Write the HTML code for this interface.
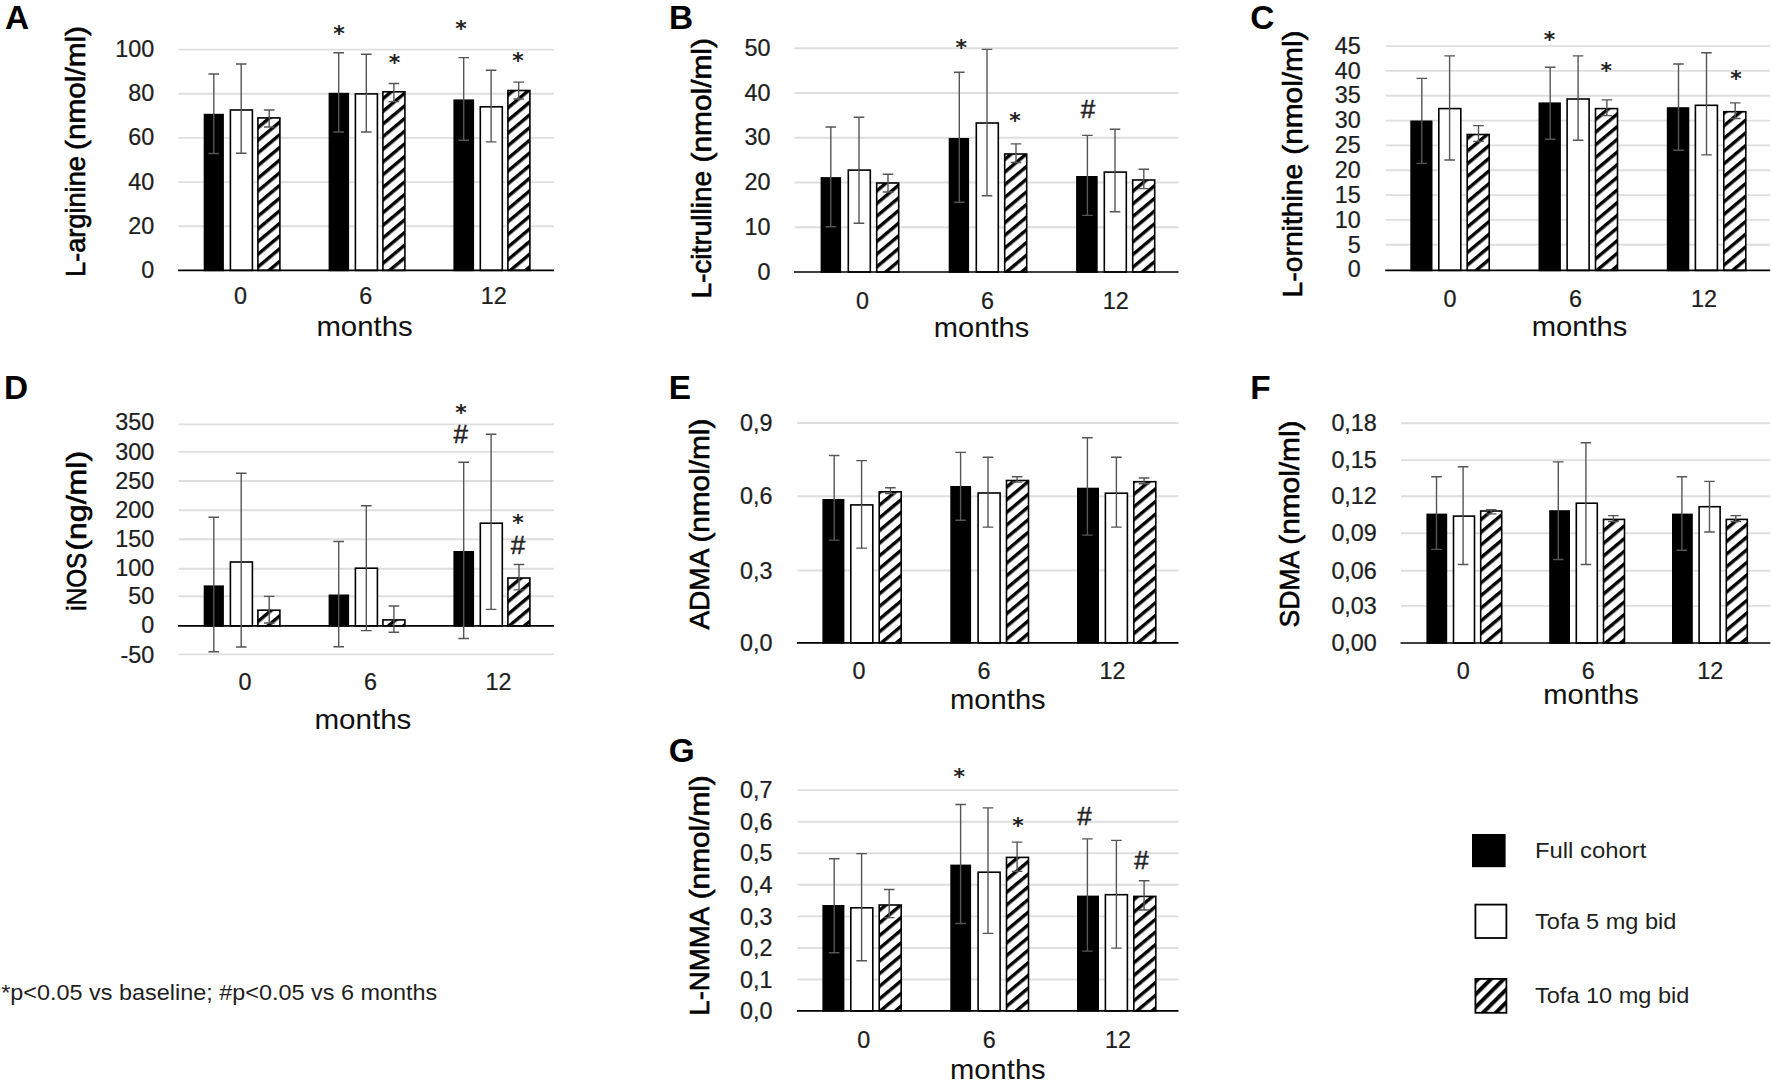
<!DOCTYPE html>
<html lang="en"><head><meta charset="utf-8"><title>Figure</title>
<style>html,body{margin:0;padding:0;background:#fff}body{width:1772px;height:1082px;overflow:hidden}svg{display:block}</style></head>
<body>
<svg width="1772" height="1082" viewBox="0 0 1772 1082" font-family='"Liberation Sans", Arial, sans-serif'>
<defs><pattern id="h" width="12.6" height="9.7" patternUnits="userSpaceOnUse" patternTransform="rotate(-40)"><rect width="12.6" height="9.7" fill="#fff"/><rect y="0" width="12.6" height="3.4" fill="#000"/></pattern><pattern id="hl" width="20" height="9.1" patternUnits="userSpaceOnUse" patternTransform="translate(1475.4 978.9) rotate(-45)"><rect width="20" height="9.1" fill="#fff"/><rect width="20" height="4" fill="#000"/></pattern></defs>
<rect width="1772" height="1082" fill="#fff"/>
<g>
<line x1="178.6" x2="554.0" y1="49.6" y2="49.6" stroke="#dedede" stroke-width="1.9"/>
<line x1="178.6" x2="554.0" y1="93.8" y2="93.8" stroke="#dedede" stroke-width="1.9"/>
<line x1="178.6" x2="554.0" y1="137.9" y2="137.9" stroke="#dedede" stroke-width="1.9"/>
<line x1="178.6" x2="554.0" y1="182.1" y2="182.1" stroke="#dedede" stroke-width="1.9"/>
<line x1="178.6" x2="554.0" y1="226.2" y2="226.2" stroke="#dedede" stroke-width="1.9"/>
<rect x="203.7" y="113.8" width="20.2" height="157.4" fill="#000"/>
<rect x="230.4" y="110.0" width="22.0" height="160.4" fill="#fff" stroke="#000" stroke-width="1.6"/>
<rect x="257.9" y="117.9" width="22.0" height="152.5" fill="url(#h)" stroke="#000" stroke-width="1.6"/>
<rect x="328.6" y="92.8" width="20.5" height="178.4" fill="#000"/>
<rect x="355.4" y="93.9" width="22.0" height="176.5" fill="#fff" stroke="#000" stroke-width="1.6"/>
<rect x="382.9" y="91.8" width="22.0" height="178.6" fill="url(#h)" stroke="#000" stroke-width="1.6"/>
<rect x="453.4" y="99.4" width="20.7" height="171.8" fill="#000"/>
<rect x="480.3" y="106.8" width="22.0" height="163.6" fill="#fff" stroke="#000" stroke-width="1.6"/>
<rect x="507.9" y="90.5" width="22.0" height="179.9" fill="url(#h)" stroke="#000" stroke-width="1.6"/>
<line x1="178.1" x2="554.0" y1="270.4" y2="270.4" stroke="#000" stroke-width="1.6"/>
<path d="M213.8 74.0V153.5M208.5 74.0h10.6M208.5 153.5h10.6M241.2 64.0V153.2M235.9 64.0h10.6M235.9 153.2h10.6M269.2 110.0V127.0M263.9 110.0h10.6M263.9 127.0h10.6M338.7 52.8V132.0M333.4 52.8h10.6M333.4 132.0h10.6M366.3 54.2V132.0M361.0 54.2h10.6M361.0 132.0h10.6M393.9 83.5V101.6M388.6 83.5h10.6M388.6 101.6h10.6M463.7 57.6V140.2M458.4 57.6h10.6M458.4 140.2h10.6M491.1 70.3V141.9M485.8 70.3h10.6M485.8 141.9h10.6M518.7 82.1V99.0M513.4 82.1h10.6M513.4 99.0h10.6" stroke="#555" stroke-width="1.4" fill="none"/>
<text x="0.0" y="0.0" font-size="23.0" text-anchor="end" fill="#1e1e1e" stroke="#1e1e1e" stroke-width="0.25" transform="translate(154.2 57.1) scale(1.015 1)">100</text>
<text x="0.0" y="0.0" font-size="23.0" text-anchor="end" fill="#1e1e1e" stroke="#1e1e1e" stroke-width="0.25" transform="translate(154.2 101.3) scale(1.015 1)">80</text>
<text x="0.0" y="0.0" font-size="23.0" text-anchor="end" fill="#1e1e1e" stroke="#1e1e1e" stroke-width="0.25" transform="translate(154.2 145.4) scale(1.015 1)">60</text>
<text x="0.0" y="0.0" font-size="23.0" text-anchor="end" fill="#1e1e1e" stroke="#1e1e1e" stroke-width="0.25" transform="translate(154.2 189.6) scale(1.015 1)">40</text>
<text x="0.0" y="0.0" font-size="23.0" text-anchor="end" fill="#1e1e1e" stroke="#1e1e1e" stroke-width="0.25" transform="translate(154.2 233.7) scale(1.015 1)">20</text>
<text x="0.0" y="0.0" font-size="23.0" text-anchor="end" fill="#1e1e1e" stroke="#1e1e1e" stroke-width="0.25" transform="translate(154.2 277.9) scale(1.015 1)">0</text>
<text x="0.0" y="0.0" font-size="23.0" text-anchor="middle" fill="#1e1e1e" stroke="#1e1e1e" stroke-width="0.25" transform="translate(240.4 304.0) scale(1.015 1)">0</text>
<text x="0.0" y="0.0" font-size="23.0" text-anchor="middle" fill="#1e1e1e" stroke="#1e1e1e" stroke-width="0.25" transform="translate(365.8 304.0) scale(1.015 1)">6</text>
<text x="0.0" y="0.0" font-size="23.0" text-anchor="middle" fill="#1e1e1e" stroke="#1e1e1e" stroke-width="0.25" transform="translate(493.8 304.0) scale(1.015 1)">12</text>
<text x="316.4" y="335.9" font-size="27.6" textLength="96.3" lengthAdjust="spacingAndGlyphs" fill="#111">months</text>
<text transform="translate(84.6 277.0) rotate(-90)" font-size="27.6" textLength="120.9" lengthAdjust="spacingAndGlyphs" fill="#000" stroke="#000" stroke-width="0.6">L-arginine</text>
<text transform="translate(84.6 149.9) rotate(-90)" font-size="27.6" textLength="123.8" lengthAdjust="spacingAndGlyphs" fill="#000" stroke="#000" stroke-width="0.6">(nmol/ml)</text>
<text x="5.0" y="28.8" font-size="33.4" font-weight="bold" fill="#000">A</text>
<text x="338.9" y="40.9" font-size="22" text-anchor="middle" fill="#222" font-family="DejaVu Sans, sans-serif" font-weight="bold">*</text>
<text x="394.4" y="70.0" font-size="22" text-anchor="middle" fill="#222" font-family="DejaVu Sans, sans-serif" font-weight="bold">*</text>
<text x="461.1" y="36.2" font-size="22" text-anchor="middle" fill="#222" font-family="DejaVu Sans, sans-serif" font-weight="bold">*</text>
<text x="517.9" y="68.0" font-size="22" text-anchor="middle" fill="#222" font-family="DejaVu Sans, sans-serif" font-weight="bold">*</text>
</g>
<g>
<line x1="794.4" x2="1178.5" y1="48.2" y2="48.2" stroke="#dedede" stroke-width="1.9"/>
<line x1="794.4" x2="1178.5" y1="93.0" y2="93.0" stroke="#dedede" stroke-width="1.9"/>
<line x1="794.4" x2="1178.5" y1="137.7" y2="137.7" stroke="#dedede" stroke-width="1.9"/>
<line x1="794.4" x2="1178.5" y1="182.5" y2="182.5" stroke="#dedede" stroke-width="1.9"/>
<line x1="794.4" x2="1178.5" y1="227.2" y2="227.2" stroke="#dedede" stroke-width="1.9"/>
<rect x="820.6" y="177.1" width="20.5" height="95.7" fill="#000"/>
<rect x="848.3" y="170.1" width="22.0" height="101.9" fill="#fff" stroke="#000" stroke-width="1.6"/>
<rect x="876.7" y="183.0" width="22.0" height="89.0" fill="url(#h)" stroke="#000" stroke-width="1.6"/>
<rect x="948.7" y="138.0" width="20.4" height="134.8" fill="#000"/>
<rect x="976.3" y="123.0" width="22.0" height="149.0" fill="#fff" stroke="#000" stroke-width="1.6"/>
<rect x="1004.7" y="154.0" width="22.0" height="118.0" fill="url(#h)" stroke="#000" stroke-width="1.6"/>
<rect x="1076.1" y="176.0" width="21.6" height="96.8" fill="#000"/>
<rect x="1104.3" y="172.1" width="22.0" height="99.9" fill="#fff" stroke="#000" stroke-width="1.6"/>
<rect x="1132.7" y="180.0" width="22.0" height="92.0" fill="url(#h)" stroke="#000" stroke-width="1.6"/>
<line x1="793.9" x2="1178.5" y1="272.0" y2="272.0" stroke="#000" stroke-width="1.6"/>
<path d="M830.8 127.0V226.7M825.5 127.0h10.6M825.5 226.7h10.6M859.0 117.3V223.3M853.7 117.3h10.6M853.7 223.3h10.6M888.0 174.2V192.0M882.7 174.2h10.6M882.7 192.0h10.6M959.3 72.3V202.2M954.0 72.3h10.6M954.0 202.2h10.6M987.0 49.4V195.7M981.7 49.4h10.6M981.7 195.7h10.6M1016.0 143.9V162.5M1010.7 143.9h10.6M1010.7 162.5h10.6M1087.4 135.4V215.4M1082.1 135.4h10.6M1082.1 215.4h10.6M1115.0 129.2V211.8M1109.7 129.2h10.6M1109.7 211.8h10.6M1143.8 169.3V188.6M1138.5 169.3h10.6M1138.5 188.6h10.6" stroke="#555" stroke-width="1.4" fill="none"/>
<text x="0.0" y="0.0" font-size="23.0" text-anchor="end" fill="#1e1e1e" stroke="#1e1e1e" stroke-width="0.25" transform="translate(770.4 55.7) scale(1.015 1)">50</text>
<text x="0.0" y="0.0" font-size="23.0" text-anchor="end" fill="#1e1e1e" stroke="#1e1e1e" stroke-width="0.25" transform="translate(770.4 100.5) scale(1.015 1)">40</text>
<text x="0.0" y="0.0" font-size="23.0" text-anchor="end" fill="#1e1e1e" stroke="#1e1e1e" stroke-width="0.25" transform="translate(770.4 145.2) scale(1.015 1)">30</text>
<text x="0.0" y="0.0" font-size="23.0" text-anchor="end" fill="#1e1e1e" stroke="#1e1e1e" stroke-width="0.25" transform="translate(770.4 190.0) scale(1.015 1)">20</text>
<text x="0.0" y="0.0" font-size="23.0" text-anchor="end" fill="#1e1e1e" stroke="#1e1e1e" stroke-width="0.25" transform="translate(770.4 234.7) scale(1.015 1)">10</text>
<text x="0.0" y="0.0" font-size="23.0" text-anchor="end" fill="#1e1e1e" stroke="#1e1e1e" stroke-width="0.25" transform="translate(770.4 279.5) scale(1.015 1)">0</text>
<text x="0.0" y="0.0" font-size="23.0" text-anchor="middle" fill="#1e1e1e" stroke="#1e1e1e" stroke-width="0.25" transform="translate(862.4 308.6) scale(1.015 1)">0</text>
<text x="0.0" y="0.0" font-size="23.0" text-anchor="middle" fill="#1e1e1e" stroke="#1e1e1e" stroke-width="0.25" transform="translate(987.5 308.6) scale(1.015 1)">6</text>
<text x="0.0" y="0.0" font-size="23.0" text-anchor="middle" fill="#1e1e1e" stroke="#1e1e1e" stroke-width="0.25" transform="translate(1115.8 308.6) scale(1.015 1)">12</text>
<text x="933.8" y="337.3" font-size="27.6" textLength="95.4" lengthAdjust="spacingAndGlyphs" fill="#111">months</text>
<text transform="translate(711.0 298.6) rotate(-90)" font-size="27.6" textLength="127.8" lengthAdjust="spacingAndGlyphs" fill="#000" stroke="#000" stroke-width="0.6">L-citrulline</text>
<text transform="translate(711.0 162.4) rotate(-90)" font-size="27.6" textLength="124.3" lengthAdjust="spacingAndGlyphs" fill="#000" stroke="#000" stroke-width="0.6">(nmol/ml)</text>
<text x="668.9" y="28.8" font-size="33.4" font-weight="bold" fill="#000">B</text>
<text x="961.3" y="54.5" font-size="22" text-anchor="middle" fill="#222" font-family="DejaVu Sans, sans-serif" font-weight="bold">*</text>
<text x="1015.1" y="127.6" font-size="22" text-anchor="middle" fill="#222" font-family="DejaVu Sans, sans-serif" font-weight="bold">*</text>
<text x="1087.9" y="118.0" font-size="26" text-anchor="middle" fill="#222" stroke="#222" stroke-width="0.5">#</text>
</g>
<g>
<line x1="1385.7" x2="1770.2" y1="46.1" y2="46.1" stroke="#dedede" stroke-width="1.9"/>
<line x1="1385.7" x2="1770.2" y1="70.9" y2="70.9" stroke="#dedede" stroke-width="1.9"/>
<line x1="1385.7" x2="1770.2" y1="95.8" y2="95.8" stroke="#dedede" stroke-width="1.9"/>
<line x1="1385.7" x2="1770.2" y1="120.6" y2="120.6" stroke="#dedede" stroke-width="1.9"/>
<line x1="1385.7" x2="1770.2" y1="145.4" y2="145.4" stroke="#dedede" stroke-width="1.9"/>
<line x1="1385.7" x2="1770.2" y1="170.2" y2="170.2" stroke="#dedede" stroke-width="1.9"/>
<line x1="1385.7" x2="1770.2" y1="195.1" y2="195.1" stroke="#dedede" stroke-width="1.9"/>
<line x1="1385.7" x2="1770.2" y1="219.9" y2="219.9" stroke="#dedede" stroke-width="1.9"/>
<line x1="1385.7" x2="1770.2" y1="244.7" y2="244.7" stroke="#dedede" stroke-width="1.9"/>
<rect x="1410.3" y="120.5" width="22.2" height="150.7" fill="#000"/>
<rect x="1438.8" y="108.6" width="22.0" height="161.8" fill="#fff" stroke="#000" stroke-width="1.6"/>
<rect x="1467.2" y="134.5" width="22.0" height="135.9" fill="url(#h)" stroke="#000" stroke-width="1.6"/>
<rect x="1538.5" y="102.4" width="22.4" height="168.8" fill="#000"/>
<rect x="1567.1" y="99.0" width="22.0" height="171.4" fill="#fff" stroke="#000" stroke-width="1.6"/>
<rect x="1595.5" y="108.6" width="22.0" height="161.8" fill="url(#h)" stroke="#000" stroke-width="1.6"/>
<rect x="1666.8" y="107.2" width="22.5" height="164.0" fill="#000"/>
<rect x="1695.4" y="105.3" width="22.0" height="165.1" fill="#fff" stroke="#000" stroke-width="1.6"/>
<rect x="1723.8" y="111.7" width="22.0" height="158.7" fill="url(#h)" stroke="#000" stroke-width="1.6"/>
<line x1="1385.2" x2="1770.2" y1="270.4" y2="270.4" stroke="#000" stroke-width="1.6"/>
<path d="M1421.8 78.4V163.4M1416.5 78.4h10.6M1416.5 163.4h10.6M1449.6 55.9V160.0M1444.3 55.9h10.6M1444.3 160.0h10.6M1478.5 125.6V141.4M1473.2 125.6h10.6M1473.2 141.4h10.6M1550.2 67.2V139.2M1544.9 67.2h10.6M1544.9 139.2h10.6M1578.1 55.9V140.2M1572.8 55.9h10.6M1572.8 140.2h10.6M1606.9 99.9V115.6M1601.6 99.9h10.6M1601.6 115.6h10.6M1678.5 64.0V150.2M1673.2 64.0h10.6M1673.2 150.2h10.6M1706.5 52.8V154.9M1701.2 52.8h10.6M1701.2 154.9h10.6M1735.2 102.9V118.5M1729.9 102.9h10.6M1729.9 118.5h10.6" stroke="#555" stroke-width="1.4" fill="none"/>
<text x="0.0" y="0.0" font-size="23.0" text-anchor="end" fill="#1e1e1e" stroke="#1e1e1e" stroke-width="0.25" transform="translate(1360.8 53.6) scale(1.015 1)">45</text>
<text x="0.0" y="0.0" font-size="23.0" text-anchor="end" fill="#1e1e1e" stroke="#1e1e1e" stroke-width="0.25" transform="translate(1360.8 78.5) scale(1.015 1)">40</text>
<text x="0.0" y="0.0" font-size="23.0" text-anchor="end" fill="#1e1e1e" stroke="#1e1e1e" stroke-width="0.25" transform="translate(1360.8 103.3) scale(1.015 1)">35</text>
<text x="0.0" y="0.0" font-size="23.0" text-anchor="end" fill="#1e1e1e" stroke="#1e1e1e" stroke-width="0.25" transform="translate(1360.8 128.2) scale(1.015 1)">30</text>
<text x="0.0" y="0.0" font-size="23.0" text-anchor="end" fill="#1e1e1e" stroke="#1e1e1e" stroke-width="0.25" transform="translate(1360.8 153.1) scale(1.015 1)">25</text>
<text x="0.0" y="0.0" font-size="23.0" text-anchor="end" fill="#1e1e1e" stroke="#1e1e1e" stroke-width="0.25" transform="translate(1360.8 178.0) scale(1.015 1)">20</text>
<text x="0.0" y="0.0" font-size="23.0" text-anchor="end" fill="#1e1e1e" stroke="#1e1e1e" stroke-width="0.25" transform="translate(1360.8 202.8) scale(1.015 1)">15</text>
<text x="0.0" y="0.0" font-size="23.0" text-anchor="end" fill="#1e1e1e" stroke="#1e1e1e" stroke-width="0.25" transform="translate(1360.8 227.7) scale(1.015 1)">10</text>
<text x="0.0" y="0.0" font-size="23.0" text-anchor="end" fill="#1e1e1e" stroke="#1e1e1e" stroke-width="0.25" transform="translate(1360.8 252.6) scale(1.015 1)">5</text>
<text x="0.0" y="0.0" font-size="23.0" text-anchor="end" fill="#1e1e1e" stroke="#1e1e1e" stroke-width="0.25" transform="translate(1360.8 277.4) scale(1.015 1)">0</text>
<text x="0.0" y="0.0" font-size="23.0" text-anchor="middle" fill="#1e1e1e" stroke="#1e1e1e" stroke-width="0.25" transform="translate(1450.1 307.0) scale(1.015 1)">0</text>
<text x="0.0" y="0.0" font-size="23.0" text-anchor="middle" fill="#1e1e1e" stroke="#1e1e1e" stroke-width="0.25" transform="translate(1575.6 307.0) scale(1.015 1)">6</text>
<text x="0.0" y="0.0" font-size="23.0" text-anchor="middle" fill="#1e1e1e" stroke="#1e1e1e" stroke-width="0.25" transform="translate(1703.9 307.0) scale(1.015 1)">12</text>
<text x="1531.7" y="335.9" font-size="27.6" textLength="95.7" lengthAdjust="spacingAndGlyphs" fill="#111">months</text>
<text transform="translate(1301.6 297.4) rotate(-90)" font-size="27.6" textLength="133.6" lengthAdjust="spacingAndGlyphs" fill="#000" stroke="#000" stroke-width="0.6">L-ornithine</text>
<text transform="translate(1301.6 154.8) rotate(-90)" font-size="27.6" textLength="124.3" lengthAdjust="spacingAndGlyphs" fill="#000" stroke="#000" stroke-width="0.6">(nmol/ml)</text>
<text x="1250.2" y="29.0" font-size="33.4" font-weight="bold" fill="#000">C</text>
<text x="1549.4" y="46.8" font-size="22" text-anchor="middle" fill="#222" font-family="DejaVu Sans, sans-serif" font-weight="bold">*</text>
<text x="1606.2" y="77.8" font-size="22" text-anchor="middle" fill="#222" font-family="DejaVu Sans, sans-serif" font-weight="bold">*</text>
<text x="1736.1" y="85.8" font-size="22" text-anchor="middle" fill="#222" font-family="DejaVu Sans, sans-serif" font-weight="bold">*</text>
</g>
<g>
<line x1="178.6" x2="554.0" y1="424.4" y2="424.4" stroke="#dedede" stroke-width="1.9"/>
<line x1="178.6" x2="554.0" y1="451.9" y2="451.9" stroke="#dedede" stroke-width="1.9"/>
<line x1="178.6" x2="554.0" y1="481.0" y2="481.0" stroke="#dedede" stroke-width="1.9"/>
<line x1="178.6" x2="554.0" y1="510.2" y2="510.2" stroke="#dedede" stroke-width="1.9"/>
<line x1="178.6" x2="554.0" y1="539.2" y2="539.2" stroke="#dedede" stroke-width="1.9"/>
<line x1="178.6" x2="554.0" y1="568.8" y2="568.8" stroke="#dedede" stroke-width="1.9"/>
<line x1="178.6" x2="554.0" y1="596.3" y2="596.3" stroke="#dedede" stroke-width="1.9"/>
<line x1="178.6" x2="554.0" y1="654.4" y2="654.4" stroke="#dedede" stroke-width="1.9"/>
<rect x="203.7" y="585.4" width="20.2" height="41.3" fill="#000"/>
<rect x="230.4" y="562.0" width="22.0" height="63.9" fill="#fff" stroke="#000" stroke-width="1.6"/>
<rect x="257.9" y="610.2" width="22.0" height="15.7" fill="url(#h)" stroke="#000" stroke-width="1.6"/>
<rect x="328.6" y="594.5" width="20.5" height="32.2" fill="#000"/>
<rect x="355.4" y="568.2" width="22.0" height="57.7" fill="#fff" stroke="#000" stroke-width="1.6"/>
<rect x="382.9" y="619.9" width="22.0" height="6.0" fill="url(#h)" stroke="#000" stroke-width="1.6"/>
<rect x="453.4" y="551.0" width="20.7" height="75.7" fill="#000"/>
<rect x="480.3" y="523.2" width="22.0" height="102.7" fill="#fff" stroke="#000" stroke-width="1.6"/>
<rect x="507.9" y="578.0" width="22.0" height="47.9" fill="url(#h)" stroke="#000" stroke-width="1.6"/>
<line x1="178.1" x2="554.0" y1="625.9" y2="625.9" stroke="#000" stroke-width="1.6"/>
<path d="M213.8 517.3V651.7M208.5 517.3h10.6M208.5 651.7h10.6M241.2 473.3V647.0M235.9 473.3h10.6M235.9 647.0h10.6M269.2 596.4V623.0M263.9 596.4h10.6M263.9 623.0h10.6M338.7 541.5V646.7M333.4 541.5h10.6M333.4 646.7h10.6M366.3 505.8V630.6M361.0 505.8h10.6M361.0 630.6h10.6M393.9 606.0V632.3M388.6 606.0h10.6M388.6 632.3h10.6M463.7 462.3V638.5M458.4 462.3h10.6M458.4 638.5h10.6M491.1 434.3V609.4M485.8 434.3h10.6M485.8 609.4h10.6M519.0 564.5V589.9M513.7 564.5h10.6M513.7 589.9h10.6" stroke="#555" stroke-width="1.4" fill="none"/>
<text x="0.0" y="0.0" font-size="23.0" text-anchor="end" fill="#1e1e1e" stroke="#1e1e1e" stroke-width="0.25" transform="translate(154.2 430.4) scale(1.015 1)">350</text>
<text x="0.0" y="0.0" font-size="23.0" text-anchor="end" fill="#1e1e1e" stroke="#1e1e1e" stroke-width="0.25" transform="translate(154.2 459.9) scale(1.015 1)">300</text>
<text x="0.0" y="0.0" font-size="23.0" text-anchor="end" fill="#1e1e1e" stroke="#1e1e1e" stroke-width="0.25" transform="translate(154.2 489.0) scale(1.015 1)">250</text>
<text x="0.0" y="0.0" font-size="23.0" text-anchor="end" fill="#1e1e1e" stroke="#1e1e1e" stroke-width="0.25" transform="translate(154.2 518.0) scale(1.015 1)">200</text>
<text x="0.0" y="0.0" font-size="23.0" text-anchor="end" fill="#1e1e1e" stroke="#1e1e1e" stroke-width="0.25" transform="translate(154.2 547.2) scale(1.015 1)">150</text>
<text x="0.0" y="0.0" font-size="23.0" text-anchor="end" fill="#1e1e1e" stroke="#1e1e1e" stroke-width="0.25" transform="translate(154.2 576.3) scale(1.015 1)">100</text>
<text x="0.0" y="0.0" font-size="23.0" text-anchor="end" fill="#1e1e1e" stroke="#1e1e1e" stroke-width="0.25" transform="translate(154.2 603.8) scale(1.015 1)">50</text>
<text x="0.0" y="0.0" font-size="23.0" text-anchor="end" fill="#1e1e1e" stroke="#1e1e1e" stroke-width="0.25" transform="translate(154.2 632.9) scale(1.015 1)">0</text>
<text x="0.0" y="0.0" font-size="23.0" text-anchor="end" fill="#1e1e1e" stroke="#1e1e1e" stroke-width="0.25" transform="translate(154.2 662.6) scale(1.015 1)">-50</text>
<text x="0.0" y="0.0" font-size="23.0" text-anchor="middle" fill="#1e1e1e" stroke="#1e1e1e" stroke-width="0.25" transform="translate(245.0 690.0) scale(1.015 1)">0</text>
<text x="0.0" y="0.0" font-size="23.0" text-anchor="middle" fill="#1e1e1e" stroke="#1e1e1e" stroke-width="0.25" transform="translate(370.6 690.0) scale(1.015 1)">6</text>
<text x="0.0" y="0.0" font-size="23.0" text-anchor="middle" fill="#1e1e1e" stroke="#1e1e1e" stroke-width="0.25" transform="translate(498.4 690.0) scale(1.015 1)">12</text>
<text x="314.4" y="728.7" font-size="27.6" textLength="97.0" lengthAdjust="spacingAndGlyphs" fill="#111">months</text>
<text transform="translate(85.6 610.7) rotate(-90)" font-size="27.6" textLength="57.8" lengthAdjust="spacingAndGlyphs" fill="#000" stroke="#000" stroke-width="0.6">iNOS</text>
<text transform="translate(85.6 550.7) rotate(-90)" font-size="27.6" textLength="99.9" lengthAdjust="spacingAndGlyphs" fill="#000" stroke="#000" stroke-width="0.6">(ng/ml)</text>
<text x="4.0" y="399.1" font-size="33.4" font-weight="bold" fill="#000">D</text>
<text x="461.1" y="420.2" font-size="22" text-anchor="middle" fill="#222" font-family="DejaVu Sans, sans-serif" font-weight="bold">*</text>
<text x="460.8" y="443.3" font-size="26" text-anchor="middle" fill="#222" stroke="#222" stroke-width="0.5">#</text>
<text x="517.9" y="530.3" font-size="22" text-anchor="middle" fill="#222" font-family="DejaVu Sans, sans-serif" font-weight="bold">*</text>
<text x="517.9" y="553.7" font-size="26" text-anchor="middle" fill="#222" stroke="#222" stroke-width="0.5">#</text>
</g>
<g>
<line x1="797.4" x2="1178.5" y1="423.0" y2="423.0" stroke="#dedede" stroke-width="1.9"/>
<line x1="797.4" x2="1178.5" y1="496.2" y2="496.2" stroke="#dedede" stroke-width="1.9"/>
<line x1="797.4" x2="1178.5" y1="570.5" y2="570.5" stroke="#dedede" stroke-width="1.9"/>
<rect x="822.4" y="499.0" width="22.0" height="144.7" fill="#000"/>
<rect x="850.8" y="504.9" width="22.0" height="138.0" fill="#fff" stroke="#000" stroke-width="1.6"/>
<rect x="879.2" y="491.8" width="22.0" height="151.1" fill="url(#h)" stroke="#000" stroke-width="1.6"/>
<rect x="950.3" y="486.0" width="20.8" height="157.7" fill="#000"/>
<rect x="978.1" y="493.0" width="22.0" height="149.9" fill="#fff" stroke="#000" stroke-width="1.6"/>
<rect x="1006.5" y="480.5" width="22.0" height="162.4" fill="url(#h)" stroke="#000" stroke-width="1.6"/>
<rect x="1077.0" y="487.7" width="22.0" height="156.0" fill="#000"/>
<rect x="1105.4" y="493.2" width="22.0" height="149.7" fill="#fff" stroke="#000" stroke-width="1.6"/>
<rect x="1133.8" y="481.7" width="22.0" height="161.2" fill="url(#h)" stroke="#000" stroke-width="1.6"/>
<line x1="796.9" x2="1178.5" y1="642.9" y2="642.9" stroke="#000" stroke-width="1.6"/>
<path d="M834.2 455.5V540.1M828.9 455.5h10.6M828.9 540.1h10.6M861.6 460.6V548.1M856.3 460.6h10.6M856.3 548.1h10.6M890.4 487.7V493.6M885.1 487.7h10.6M885.1 493.6h10.6M960.6 452.4V520.3M955.3 452.4h10.6M955.3 520.3h10.6M988.0 457.2V527.1M982.7 457.2h10.6M982.7 527.1h10.6M1017.1 476.7V482.1M1011.8 476.7h10.6M1011.8 482.1h10.6M1087.4 437.7V535.1M1082.1 437.7h10.6M1082.1 535.1h10.6M1116.4 457.2V527.1M1111.1 457.2h10.6M1111.1 527.1h10.6M1144.1 478.0V483.8M1138.8 478.0h10.6M1138.8 483.8h10.6" stroke="#555" stroke-width="1.4" fill="none"/>
<text x="0.0" y="0.0" font-size="23.0" text-anchor="end" fill="#1e1e1e" stroke="#1e1e1e" stroke-width="0.25" transform="translate(772.4 431.0) scale(1.015 1)">0,9</text>
<text x="0.0" y="0.0" font-size="23.0" text-anchor="end" fill="#1e1e1e" stroke="#1e1e1e" stroke-width="0.25" transform="translate(772.4 504.3) scale(1.015 1)">0,6</text>
<text x="0.0" y="0.0" font-size="23.0" text-anchor="end" fill="#1e1e1e" stroke="#1e1e1e" stroke-width="0.25" transform="translate(772.4 578.6) scale(1.015 1)">0,3</text>
<text x="0.0" y="0.0" font-size="23.0" text-anchor="end" fill="#1e1e1e" stroke="#1e1e1e" stroke-width="0.25" transform="translate(772.4 650.9) scale(1.015 1)">0,0</text>
<text x="0.0" y="0.0" font-size="23.0" text-anchor="middle" fill="#1e1e1e" stroke="#1e1e1e" stroke-width="0.25" transform="translate(859.0 678.8) scale(1.015 1)">0</text>
<text x="0.0" y="0.0" font-size="23.0" text-anchor="middle" fill="#1e1e1e" stroke="#1e1e1e" stroke-width="0.25" transform="translate(984.1 678.8) scale(1.015 1)">6</text>
<text x="0.0" y="0.0" font-size="23.0" text-anchor="middle" fill="#1e1e1e" stroke="#1e1e1e" stroke-width="0.25" transform="translate(1112.5 678.8) scale(1.015 1)">12</text>
<text x="950.1" y="709.0" font-size="27.6" textLength="95.6" lengthAdjust="spacingAndGlyphs" fill="#111">months</text>
<text transform="translate(708.6 629.6) rotate(-90)" font-size="27.6" textLength="81.0" lengthAdjust="spacingAndGlyphs" fill="#000" stroke="#000" stroke-width="0.6">ADMA</text>
<text transform="translate(708.6 542.6) rotate(-90)" font-size="27.6" textLength="123.9" lengthAdjust="spacingAndGlyphs" fill="#000" stroke="#000" stroke-width="0.6">(nmol/ml)</text>
<text x="668.8" y="399.1" font-size="33.4" font-weight="bold" fill="#000">E</text>
</g>
<g>
<line x1="1401.0" x2="1770.3" y1="423.2" y2="423.2" stroke="#dedede" stroke-width="1.9"/>
<line x1="1401.0" x2="1770.3" y1="460.1" y2="460.1" stroke="#dedede" stroke-width="1.9"/>
<line x1="1401.0" x2="1770.3" y1="496.2" y2="496.2" stroke="#dedede" stroke-width="1.9"/>
<line x1="1401.0" x2="1770.3" y1="533.2" y2="533.2" stroke="#dedede" stroke-width="1.9"/>
<line x1="1401.0" x2="1770.3" y1="570.8" y2="570.8" stroke="#dedede" stroke-width="1.9"/>
<line x1="1401.0" x2="1770.3" y1="605.9" y2="605.9" stroke="#dedede" stroke-width="1.9"/>
<rect x="1426.4" y="513.6" width="20.8" height="130.2" fill="#000"/>
<rect x="1453.5" y="516.1" width="21.0" height="126.9" fill="#fff" stroke="#000" stroke-width="1.6"/>
<rect x="1480.7" y="511.0" width="21.0" height="132.0" fill="url(#h)" stroke="#000" stroke-width="1.6"/>
<rect x="1549.2" y="510.2" width="20.8" height="133.6" fill="#000"/>
<rect x="1576.3" y="503.2" width="21.0" height="139.8" fill="#fff" stroke="#000" stroke-width="1.6"/>
<rect x="1603.5" y="519.4" width="21.0" height="123.6" fill="url(#h)" stroke="#000" stroke-width="1.6"/>
<rect x="1672.0" y="513.6" width="20.8" height="130.2" fill="#000"/>
<rect x="1699.1" y="506.7" width="21.0" height="136.3" fill="#fff" stroke="#000" stroke-width="1.6"/>
<rect x="1726.3" y="519.4" width="21.0" height="123.6" fill="url(#h)" stroke="#000" stroke-width="1.6"/>
<line x1="1400.5" x2="1770.3" y1="643.0" y2="643.0" stroke="#000" stroke-width="1.6"/>
<path d="M1436.5 476.7V549.4M1431.2 476.7h10.6M1431.2 549.4h10.6M1463.1 466.8V564.5M1457.8 466.8h10.6M1457.8 564.5h10.6M1491.2 509.7V513.9M1485.9 509.7h10.6M1485.9 513.9h10.6M1558.3 461.9V559.5M1553.0 461.9h10.6M1553.0 559.5h10.6M1585.9 442.8V564.5M1580.6 442.8h10.6M1580.6 564.5h10.6M1613.4 515.6V521.5M1608.1 515.6h10.6M1608.1 521.5h10.6M1681.9 476.7V550.2M1676.6 476.7h10.6M1676.6 550.2h10.6M1709.5 481.4V532.0M1704.2 481.4h10.6M1704.2 532.0h10.6M1735.8 515.6V521.5M1730.5 515.6h10.6M1730.5 521.5h10.6" stroke="#555" stroke-width="1.4" fill="none"/>
<text x="0.0" y="0.0" font-size="23.0" text-anchor="end" fill="#1e1e1e" stroke="#1e1e1e" stroke-width="0.25" transform="translate(1376.8 430.7) scale(1.015 1)">0,18</text>
<text x="0.0" y="0.0" font-size="23.0" text-anchor="end" fill="#1e1e1e" stroke="#1e1e1e" stroke-width="0.25" transform="translate(1376.8 467.7) scale(1.015 1)">0,15</text>
<text x="0.0" y="0.0" font-size="23.0" text-anchor="end" fill="#1e1e1e" stroke="#1e1e1e" stroke-width="0.25" transform="translate(1376.8 504.0) scale(1.015 1)">0,12</text>
<text x="0.0" y="0.0" font-size="23.0" text-anchor="end" fill="#1e1e1e" stroke="#1e1e1e" stroke-width="0.25" transform="translate(1376.8 541.1) scale(1.015 1)">0,09</text>
<text x="0.0" y="0.0" font-size="23.0" text-anchor="end" fill="#1e1e1e" stroke="#1e1e1e" stroke-width="0.25" transform="translate(1376.8 578.8) scale(1.015 1)">0,06</text>
<text x="0.0" y="0.0" font-size="23.0" text-anchor="end" fill="#1e1e1e" stroke="#1e1e1e" stroke-width="0.25" transform="translate(1376.8 614.1) scale(1.015 1)">0,03</text>
<text x="0.0" y="0.0" font-size="23.0" text-anchor="end" fill="#1e1e1e" stroke="#1e1e1e" stroke-width="0.25" transform="translate(1376.8 651.3) scale(1.015 1)">0,00</text>
<text x="0.0" y="0.0" font-size="23.0" text-anchor="middle" fill="#1e1e1e" stroke="#1e1e1e" stroke-width="0.25" transform="translate(1463.3 678.8) scale(1.015 1)">0</text>
<text x="0.0" y="0.0" font-size="23.0" text-anchor="middle" fill="#1e1e1e" stroke="#1e1e1e" stroke-width="0.25" transform="translate(1588.3 678.8) scale(1.015 1)">6</text>
<text x="0.0" y="0.0" font-size="23.0" text-anchor="middle" fill="#1e1e1e" stroke="#1e1e1e" stroke-width="0.25" transform="translate(1710.2 678.8) scale(1.015 1)">12</text>
<text x="1543.3" y="704.2" font-size="27.6" textLength="95.6" lengthAdjust="spacingAndGlyphs" fill="#111">months</text>
<text transform="translate(1299.2 627.6) rotate(-90)" font-size="27.6" textLength="76.8" lengthAdjust="spacingAndGlyphs" fill="#000" stroke="#000" stroke-width="0.6">SDMA</text>
<text transform="translate(1299.2 544.8) rotate(-90)" font-size="27.6" textLength="124.3" lengthAdjust="spacingAndGlyphs" fill="#000" stroke="#000" stroke-width="0.6">(nmol/ml)</text>
<text x="1250.2" y="399.1" font-size="33.4" font-weight="bold" fill="#000">F</text>
</g>
<g>
<line x1="797.4" x2="1178.5" y1="790.1" y2="790.1" stroke="#dedede" stroke-width="1.9"/>
<line x1="797.4" x2="1178.5" y1="821.7" y2="821.7" stroke="#dedede" stroke-width="1.9"/>
<line x1="797.4" x2="1178.5" y1="853.2" y2="853.2" stroke="#dedede" stroke-width="1.9"/>
<line x1="797.4" x2="1178.5" y1="884.8" y2="884.8" stroke="#dedede" stroke-width="1.9"/>
<line x1="797.4" x2="1178.5" y1="916.4" y2="916.4" stroke="#dedede" stroke-width="1.9"/>
<line x1="797.4" x2="1178.5" y1="948.0" y2="948.0" stroke="#dedede" stroke-width="1.9"/>
<line x1="797.4" x2="1178.5" y1="979.5" y2="979.5" stroke="#dedede" stroke-width="1.9"/>
<rect x="822.4" y="905.0" width="22.0" height="106.7" fill="#000"/>
<rect x="850.8" y="907.8" width="22.0" height="103.1" fill="#fff" stroke="#000" stroke-width="1.6"/>
<rect x="879.2" y="905.0" width="22.0" height="105.9" fill="url(#h)" stroke="#000" stroke-width="1.6"/>
<rect x="950.3" y="864.6" width="20.8" height="147.1" fill="#000"/>
<rect x="978.1" y="872.2" width="22.0" height="138.7" fill="#fff" stroke="#000" stroke-width="1.6"/>
<rect x="1006.5" y="857.4" width="22.0" height="153.5" fill="url(#h)" stroke="#000" stroke-width="1.6"/>
<rect x="1077.0" y="895.6" width="22.0" height="116.1" fill="#000"/>
<rect x="1105.4" y="894.7" width="22.0" height="116.2" fill="#fff" stroke="#000" stroke-width="1.6"/>
<rect x="1133.8" y="896.4" width="22.0" height="114.5" fill="url(#h)" stroke="#000" stroke-width="1.6"/>
<line x1="796.9" x2="1178.5" y1="1010.9" y2="1010.9" stroke="#000" stroke-width="1.6"/>
<path d="M834.2 858.7V952.8M828.9 858.7h10.6M828.9 952.8h10.6M861.6 853.6V960.8M856.3 853.6h10.6M856.3 960.8h10.6M889.2 889.5V917.6M883.9 889.5h10.6M883.9 917.6h10.6M960.6 804.5V923.5M955.3 804.5h10.6M955.3 923.5h10.6M988.0 807.9V933.4M982.7 807.9h10.6M982.7 933.4h10.6M1017.1 842.1V871.4M1011.8 842.1h10.6M1011.8 871.4h10.6M1087.4 838.9V951.1M1082.1 838.9h10.6M1082.1 951.1h10.6M1116.4 840.4V948.1M1111.1 840.4h10.6M1111.1 948.1h10.6M1144.1 880.7V910.0M1138.8 880.7h10.6M1138.8 910.0h10.6" stroke="#555" stroke-width="1.4" fill="none"/>
<text x="0.0" y="0.0" font-size="23.0" text-anchor="end" fill="#1e1e1e" stroke="#1e1e1e" stroke-width="0.25" transform="translate(772.4 798.2) scale(1.015 1)">0,7</text>
<text x="0.0" y="0.0" font-size="23.0" text-anchor="end" fill="#1e1e1e" stroke="#1e1e1e" stroke-width="0.25" transform="translate(772.4 829.8) scale(1.015 1)">0,6</text>
<text x="0.0" y="0.0" font-size="23.0" text-anchor="end" fill="#1e1e1e" stroke="#1e1e1e" stroke-width="0.25" transform="translate(772.4 861.3) scale(1.015 1)">0,5</text>
<text x="0.0" y="0.0" font-size="23.0" text-anchor="end" fill="#1e1e1e" stroke="#1e1e1e" stroke-width="0.25" transform="translate(772.4 892.9) scale(1.015 1)">0,4</text>
<text x="0.0" y="0.0" font-size="23.0" text-anchor="end" fill="#1e1e1e" stroke="#1e1e1e" stroke-width="0.25" transform="translate(772.4 924.5) scale(1.015 1)">0,3</text>
<text x="0.0" y="0.0" font-size="23.0" text-anchor="end" fill="#1e1e1e" stroke="#1e1e1e" stroke-width="0.25" transform="translate(772.4 956.1) scale(1.015 1)">0,2</text>
<text x="0.0" y="0.0" font-size="23.0" text-anchor="end" fill="#1e1e1e" stroke="#1e1e1e" stroke-width="0.25" transform="translate(772.4 987.6) scale(1.015 1)">0,1</text>
<text x="0.0" y="0.0" font-size="23.0" text-anchor="end" fill="#1e1e1e" stroke="#1e1e1e" stroke-width="0.25" transform="translate(772.4 1019.2) scale(1.015 1)">0,0</text>
<text x="0.0" y="0.0" font-size="23.0" text-anchor="middle" fill="#1e1e1e" stroke="#1e1e1e" stroke-width="0.25" transform="translate(863.8 1047.9) scale(1.015 1)">0</text>
<text x="0.0" y="0.0" font-size="23.0" text-anchor="middle" fill="#1e1e1e" stroke="#1e1e1e" stroke-width="0.25" transform="translate(989.2 1047.9) scale(1.015 1)">6</text>
<text x="0.0" y="0.0" font-size="23.0" text-anchor="middle" fill="#1e1e1e" stroke="#1e1e1e" stroke-width="0.25" transform="translate(1117.9 1047.9) scale(1.015 1)">12</text>
<text x="950.1" y="1079.3" font-size="27.6" textLength="95.6" lengthAdjust="spacingAndGlyphs" fill="#111">months</text>
<text transform="translate(708.6 1015.7) rotate(-90)" font-size="27.6" textLength="108.9" lengthAdjust="spacingAndGlyphs" fill="#000" stroke="#000" stroke-width="0.6">L-NMMA</text>
<text transform="translate(708.6 899.3) rotate(-90)" font-size="27.6" textLength="124.0" lengthAdjust="spacingAndGlyphs" fill="#000" stroke="#000" stroke-width="0.6">(nmol/ml)</text>
<text x="668.8" y="762.1" font-size="33.4" font-weight="bold" fill="#000">G</text>
<text x="959.3" y="784.0" font-size="22" text-anchor="middle" fill="#222" font-family="DejaVu Sans, sans-serif" font-weight="bold">*</text>
<text x="1018.0" y="833.0" font-size="22" text-anchor="middle" fill="#222" font-family="DejaVu Sans, sans-serif" font-weight="bold">*</text>
<text x="1084.5" y="824.8" font-size="26" text-anchor="middle" fill="#222" stroke="#222" stroke-width="0.5">#</text>
<text x="1141.6" y="868.8" font-size="26" text-anchor="middle" fill="#222" stroke="#222" stroke-width="0.5">#</text>
</g>
<rect x="1472.0" y="834.0" width="33.6" height="33.2" fill="#000"/>
<rect x="1475.4" y="904.6" width="31.0" height="33.4" fill="#fff" stroke="#000" stroke-width="1.8"/>
<rect x="1475.4" y="978.9" width="31.0" height="33.9" fill="url(#hl)" stroke="#000" stroke-width="1.8"/>
<text x="1535.0" y="858.0" font-size="22" textLength="111.3" lengthAdjust="spacingAndGlyphs" fill="#1e1e1e">Full cohort</text>
<text x="1535.0" y="928.7" font-size="22" textLength="141.4" lengthAdjust="spacingAndGlyphs" fill="#1e1e1e">Tofa 5 mg bid</text>
<text x="1535.0" y="1003.3" font-size="22" textLength="154.4" lengthAdjust="spacingAndGlyphs" fill="#1e1e1e">Tofa 10 mg bid</text>
<text x="1.2" y="1000.4" font-size="22" textLength="436.0" lengthAdjust="spacingAndGlyphs" fill="#1e1e1e">*p&lt;0.05 vs baseline; #p&lt;0.05 vs 6 months</text>
</svg>
</body></html>
